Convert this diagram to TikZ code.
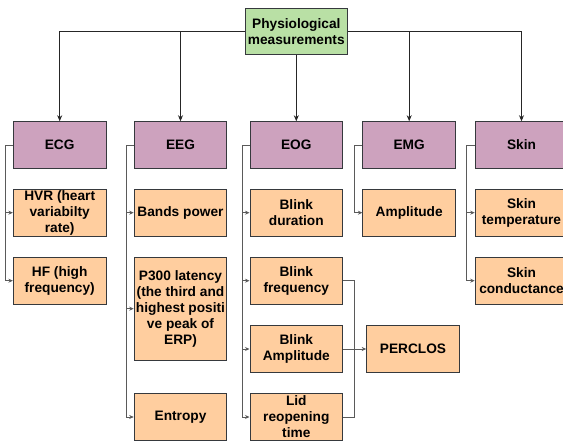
\documentclass[tikz,border=0pt]{standalone}
\usepackage{fontspec}
\setmainfont{Liberation Sans}
\usetikzlibrary{arrows.meta}
\definecolor{pgreen}{HTML}{B9E0A5}
\definecolor{ppurple}{HTML}{CDA2BE}
\definecolor{porange}{HTML}{FFCE9F}
\definecolor{pborder}{HTML}{36393D}
\definecolor{pline}{HTML}{5A5A5A}
\tikzset{
  box/.style={draw=pborder, line width=0.9pt, minimum width=92.7pt, minimum height=46.6pt,
    inner sep=0pt, align=center, font=\fontsize{13.7}{16}\selectfont\bfseries},
  topbox/.style={box, fill=pgreen, minimum width=102.7pt, minimum height=46pt},
  catbox/.style={box, fill=ppurple},
  itembox/.style={box, fill=porange},
  toparr/.style={draw=black!85, line width=0.8pt, -{Stealth[length=6pt,width=5pt]}},
  brarr/.style={draw=pline, line width=0.8pt, -{Stealth[length=4.5pt,width=4pt]}},
  brline/.style={draw=pline, line width=0.8pt},
}
\begin{document}
\begin{tikzpicture}[x=1pt,y=-1pt]
\useasboundingbox (0,0) rectangle (563,441);
% top
\node[topbox] (top) at (296.3,31.3) {Physiological\\measurements};
% categories
\node[catbox] (ecg) at (59.7,145) {ECG};
\node[catbox] (eeg) at (180.5,145) {EEG};
\node[catbox] (eog) at (296.3,145) {EOG};
\node[catbox] (emg) at (409.2,145) {EMG};
\node[catbox] (skin) at (521.5,145) {Skin};
% ECG items
\node[itembox] (hvr) at (59.7,212.7) {HVR (heart\\variabilty\\rate)};
\node[itembox] (hf) at (59.7,280.7) {HF (high\\frequency)};
% EEG items
\node[itembox] (bands) at (180.5,212.7) {Bands power};
\node[itembox, minimum height=103pt] (p300) at (180.5,308.7) {P300 latency\\(the third and\\highest positi\\ve peak of\\ERP)};
\node[itembox] (entropy) at (180.5,417) {Entropy};
% EOG items
\node[itembox] (bdur) at (296.3,212.7) {Blink\\duration};
\node[itembox] (bfreq) at (296.3,280.7) {Blink\\frequency};
\node[itembox] (bamp) at (296.3,349) {Blink\\Amplitude};
\node[itembox] (lid) at (296.3,417) {Lid\\reopening\\time};
% EMG items
\node[itembox] (amp) at (409.2,212.7) {Amplitude};
% Skin items
\node[itembox] (stemp) at (521.5,212.7) {Skin\\temperature};
\node[itembox] (scond) at (521.5,280.7) {Skin\\conductance};
% PERCLOS
\node[itembox] (perclos) at (413,349) {PERCLOS};
% top connectors
\draw[toparr] (top.west) -| (ecg.north);
\draw[toparr] (top.west) -| (eeg.north);
\draw[toparr] (top.south) -- (eog.north);
\draw[toparr] (top.east) -| (emg.north);
\draw[toparr] (top.east) -| (skin.north);
% branch connectors
\draw[brarr] (ecg.west) -- ++(-7.6,0) |- (hvr.west);
\draw[brarr] (ecg.west) -- ++(-7.6,0) |- (hf.west);
\draw[brarr] (eeg.west) -- ++(-7.6,0) |- (bands.west);
\draw[brarr] (eeg.west) -- ++(-7.6,0) |- (p300.west);
\draw[brarr] (eeg.west) -- ++(-7.6,0) |- (entropy.west);
\draw[brarr] (eog.west) -- ++(-7.5,0) |- (bdur.west);
\draw[brarr] (eog.west) -- ++(-7.5,0) |- (bfreq.west);
\draw[brarr] (eog.west) -- ++(-7.5,0) |- (bamp.west);
\draw[brarr] (eog.west) -- ++(-7.5,0) |- (lid.west);
\draw[brarr] (emg.west) -- ++(-8,0) |- (amp.west);
\draw[brarr] (skin.west) -- ++(-8,0) |- (stemp.west);
\draw[brarr] (skin.west) -- ++(-8,0) |- (scond.west);
% PERCLOS connectors
\coordinate (mx) at (354.3,349);
\draw[brline] (bfreq.east) -| (mx);
\draw[brline] (lid.east) -| (mx);
\draw[brarr] (bamp.east) -- (perclos.west);
\end{tikzpicture}
\end{document}
